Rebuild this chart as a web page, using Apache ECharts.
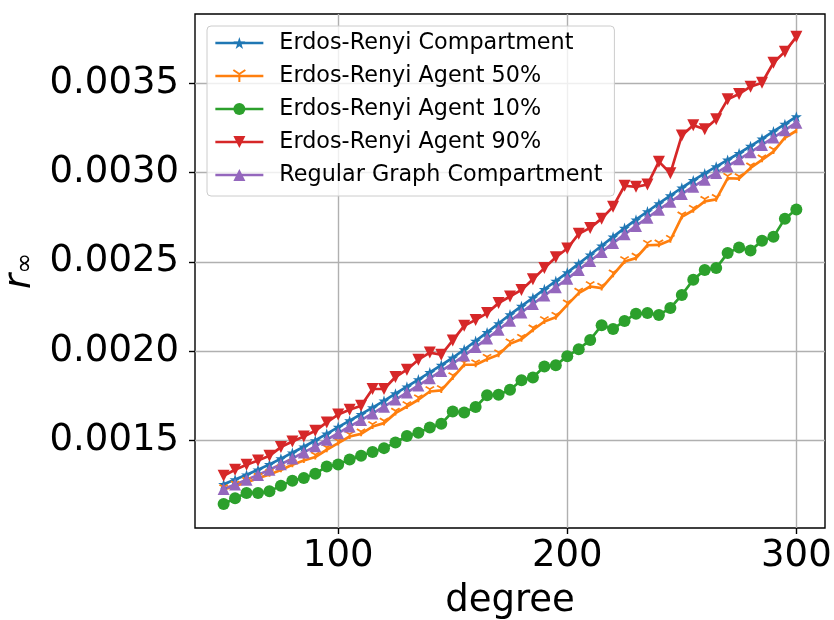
<!DOCTYPE html>
<html>
<head>
<meta charset="utf-8">
<script src="https://cdn.jsdelivr.net/npm/echarts@6/dist/echarts.min.js"></script>
<style>
  html, body { margin: 0; padding: 0; background: #ffffff; }
  #chart { width: 834px; height: 620px; }
</style>
</head>
<body>
<div id="chart"></div>
<script>
// Mean degree of the network
const degree = [50, 55, 60, 65, 70, 75, 80, 85, 90, 95, 100, 105, 110, 115, 120, 125, 130, 135, 140, 145,
  150, 155, 160, 165, 170, 175, 180, 185, 190, 195, 200, 205, 210, 215, 220, 225, 230, 235, 240, 245,
  250, 255, 260, 265, 270, 275, 280, 285, 290, 295, 300];

// Final recovered fraction r_inf for each model
const erCompartment = [0.001255, 0.001281, 0.001308, 0.001336, 0.001366, 0.001398, 0.001431, 0.001465, 0.001500, 0.001537,
  0.001575, 0.001611, 0.001647, 0.001684, 0.001722, 0.001762, 0.001801, 0.001841, 0.001881, 0.001922,
  0.001963, 0.002009, 0.002057, 0.002105, 0.002155, 0.002205, 0.002252, 0.002299, 0.002346, 0.002393,
  0.002440, 0.002490, 0.002540, 0.002590, 0.002640, 0.002689, 0.002736, 0.002782, 0.002827, 0.002871,
  0.002915, 0.002956, 0.002995, 0.003033, 0.003071, 0.003108, 0.003148, 0.003189, 0.003230, 0.003271, 0.003313];

const erAgent50 = [0.001225, 0.001245, 0.001265, 0.001288, 0.001310, 0.001335, 0.001364, 0.001388, 0.001407, 0.001448,
  0.001485, 0.001522, 0.001537, 0.001578, 0.001597, 0.001653, 0.001690, 0.001728, 0.001774, 0.001780,
  0.001852, 0.001924, 0.001924, 0.001955, 0.001980, 0.002041, 0.002067, 0.002119, 0.002166, 0.002190,
  0.002259, 0.002325, 0.002362, 0.002353, 0.002427, 0.002502, 0.002521, 0.002593, 0.002595, 0.002621,
  0.002752, 0.002789, 0.002839, 0.002850, 0.002968, 0.002966, 0.003026, 0.003071, 0.003117, 0.003195, 0.003234];

const erAgent10 = [0.001144, 0.001176, 0.001206, 0.001206, 0.001215, 0.001247, 0.001275, 0.001290, 0.001314, 0.001354,
  0.001366, 0.001393, 0.001415, 0.001435, 0.001457, 0.001488, 0.001525, 0.001543, 0.001572, 0.001593,
  0.001662, 0.001657, 0.001687, 0.001753, 0.001756, 0.001784, 0.001837, 0.001852, 0.001914, 0.001921,
  0.001972, 0.002011, 0.002063, 0.002145, 0.002124, 0.002169, 0.002209, 0.002213, 0.002203, 0.002241,
  0.002315, 0.002400, 0.002455, 0.002465, 0.002549, 0.002580, 0.002563, 0.002618, 0.002640, 0.002742, 0.002793];

const erAgent90 = [0.001302, 0.001336, 0.001364, 0.001388, 0.001414, 0.001463, 0.001494, 0.001522, 0.001554, 0.001601,
  0.001645, 0.001672, 0.001694, 0.001788, 0.001788, 0.001855, 0.001896, 0.001952, 0.001992, 0.001980,
  0.002060, 0.002142, 0.002175, 0.002213, 0.002269, 0.002306, 0.002343, 0.002403, 0.002465, 0.002526,
  0.002575, 0.002657, 0.002690, 0.002742, 0.002809, 0.002926, 0.002920, 0.002933, 0.003061, 0.002996,
  0.003208, 0.003265, 0.003243, 0.003299, 0.003410, 0.003440, 0.003481, 0.003503, 0.003615, 0.003677, 0.003760];

const regularCompartment = [0.001228, 0.001254, 0.001280, 0.001307, 0.001336, 0.001367, 0.001399, 0.001433, 0.001467, 0.001504,
  0.001541, 0.001578, 0.001614, 0.001651, 0.001689, 0.001729, 0.001768, 0.001808, 0.001848, 0.001889,
  0.001930, 0.001975, 0.002023, 0.002071, 0.002120, 0.002170, 0.002217, 0.002264, 0.002311, 0.002358,
  0.002405, 0.002455, 0.002505, 0.002555, 0.002605, 0.002654, 0.002701, 0.002747, 0.002792, 0.002836,
  0.002880, 0.002921, 0.002960, 0.002998, 0.003036, 0.003074, 0.003114, 0.003155, 0.003196, 0.003237, 0.003279];

const seriesNames = ['Erdos-Renyi Compartment', 'Erdos-Renyi Agent 50%', 'Erdos-Renyi Agent 10%',
  'Erdos-Renyi Agent 90%', 'Regular Graph Compartment'];

const xTicks = [100, 200, 300];
const yTicks = [0.0015, 0.0020, 0.0025, 0.0030, 0.0035];

const FONT = 'DejaVu Sans';

// marker shapes
const STAR = 'path://M0,-10 L2.245,-3.09 L9.511,-3.09 L3.633,1.18 L5.878,8.09 L0,3.82 L-5.878,8.09 L-3.633,1.18 L-9.511,-3.09 L-2.245,-3.09 Z';
const TRI_DOWN = 'path://M0,0 L0,10 M0,0 L-8.66,-5 M0,0 L8.66,-5';

function pairs(ys) {
  return degree.map((x, i) => [x, ys[i]]);
}

function lineSeries(name, ys, color, symbol, size, extra) {
  return Object.assign({
    name: name,
    type: 'line',
    data: pairs(ys),
    symbol: symbol,
    symbolSize: size,
    showAllSymbol: true,
    color: color,
    lineStyle: { color: color, width: 2.7 },
    itemStyle: { color: color },
    emphasis: { disabled: true },
    animation: false
  }, extra || {});
}

const chart = echarts.init(document.getElementById('chart'), null, { renderer: 'canvas' });

chart.setOption({
  animation: false,
  backgroundColor: '#ffffff',
  textStyle: { fontFamily: FONT },
  grid: {
    left: 195, top: 14, width: 630, height: 514,
    outerBoundsMode: 'none',
    containLabel: false,
    show: true, borderColor: '#000000', borderWidth: 1.4, backgroundColor: 'transparent'
  },
  xAxis: {
    type: 'value',
    min: 37.5, max: 312.5,
    name: 'degree',
    nameLocation: 'middle',
    nameGap: 55,
    nameTextStyle: { fontFamily: FONT, fontSize: 37, color: '#000000' },
    axisLine: { show: false },
    axisTick: { show: true, customValues: xTicks, length: 6, lineStyle: { color: '#000000', width: 1.4 } },
    axisLabel: { customValues: xTicks, fontFamily: FONT, fontSize: 37, color: '#000000', margin: 10 },
    splitLine: { show: true, lineStyle: { color: '#b0b0b0', width: 1.4 } }
  },
  yAxis: {
    type: 'value',
    min: 0.0010098, max: 0.0038878,
    name: '{r|r}{s|∞}',
    nameLocation: 'middle',
    nameRotate: 90,
    nameGap: 150,
    nameTextStyle: {
      rich: {
        r: { fontFamily: FONT, fontSize: 37, fontStyle: 'italic', color: '#000000', lineHeight: 36 },
        s: { fontFamily: FONT, fontSize: 25, color: '#000000', lineHeight: 16, verticalAlign: 'bottom' }
      }
    },
    axisLine: { show: false },
    axisTick: { show: true, customValues: yTicks, length: 6, lineStyle: { color: '#000000', width: 1.4 } },
    axisLabel: {
      customValues: yTicks, fontFamily: FONT, fontSize: 37, color: '#000000', margin: 16,
      formatter: v => v.toFixed(4)
    },
    splitLine: { show: true, lineStyle: { color: '#b0b0b0', width: 1.4 } }
  },
  legend: {
    orient: 'vertical',
    left: 207, top: 26,
    data: seriesNames,
    itemWidth: 48,
    itemHeight: 15,
    itemGap: 11,
    padding: [6, 12, 10, 7],
    backgroundColor: 'rgba(255,255,255,0.8)',
    borderColor: '#cccccc',
    borderWidth: 1,
    borderRadius: 4,
    lineStyle: { width: 2.7 },
    textStyle: { fontFamily: FONT, fontSize: 22.3, color: '#000000', padding: [0, 0, 0, 11] }
  },
  series: [
    lineSeries(seriesNames[0], erCompartment, '#1f77b4', STAR, 11),
    lineSeries(seriesNames[1], erAgent50, '#ff7f0e', TRI_DOWN, [8.4, 7.3], {
      symbolOffset: [0, -1.2],
      itemStyle: { color: '#ff7f0e', borderColor: '#ff7f0e', borderWidth: 1.8 }
    }),
    lineSeries(seriesNames[2], erAgent10, '#2ca02c', 'circle', 12),
    lineSeries(seriesNames[3], erAgent90, '#d62728', 'triangle', 12, { symbolRotate: 180 }),
    lineSeries(seriesNames[4], regularCompartment, '#9467bd', 'triangle', 12)
  ]
});
</script>
</body>
</html>
